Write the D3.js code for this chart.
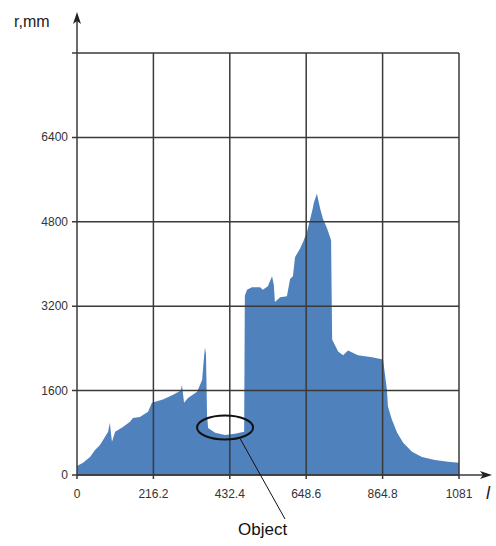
<!DOCTYPE html>
<html><head><meta charset="utf-8">
<script src="https://d3js.org/d3.v7.min.js"></script>
<style>body{margin:0;background:#fff;} svg{display:block;font-family:Arial,"Liberation Sans",sans-serif;}</style>
</head><body>
<svg id="chart"></svg>
<script>
// profile: position along scan vs range r (mm)
var pos=[0,17,37,51,65,79,88,93,96,99,108,130,150,158,178,201,212,243,272,294,297,303,314,340,354,359,362,365,368,371,391,419,447,473,
         475,481,495,518,526,540,552,557,560,575,594,603,611,617,631,640,651,665,671,679,688,696,708,716,719,
         722,739,753,767,795,835,866,877,880,891,906,923,948,976,1013,1050,1081];
var rmm=[170,230,340,475,570,720,820,990,800,630,820,910,1010,1080,1100,1200,1370,1430,1520,1600,1710,1370,1460,1580,1800,2200,2410,2300,1140,890,800,760,780,820,
         3400,3510,3560,3560,3510,3580,3770,3600,3280,3370,3390,3715,3770,4130,4290,4420,4610,4990,5180,5330,5050,4860,4670,4510,4450,
         2570,2340,2270,2360,2270,2230,2190,1620,1300,1050,800,610,440,340,285,250,230];
var xTicks=[0,216.2,432.4,648.6,864.8,1081];
var yTicks=[0,1600,3200,4800,6400];
var yTop=8000;
var objX=419, objR=900;

var W=496,H=546,m={top:53,right:37,bottom:71,left:77};
var svg=d3.select('#chart').attr('width',W).attr('height',H);
var x=d3.scaleLinear().domain([0,1081]).range([m.left,W-m.right]),
    y=d3.scaleLinear().domain([0,yTop]).range([H-m.bottom,m.top]);
var data=pos.map(function(p,i){return {x:p,r:rmm[i]};});

svg.append('path').datum(data)
   .attr('fill','#4f81bd')
   .attr('d',d3.area().x(function(d){return x(d.x);}).y0(y(0)).y1(function(d){return y(d.r);}));

var g=svg.append('g').attr('stroke','#3a3a3a').attr('stroke-width',1.5);
g.selectAll('.vg').data(xTicks.slice(1)).enter().append('line')
 .attr('x1',function(d){return x(d);}).attr('x2',function(d){return x(d);})
 .attr('y1',y(0)+4).attr('y2',y(yTop));
g.selectAll('.hg').data(yTicks.concat([yTop])).enter().append('line')
 .attr('x1',x(0)-5).attr('x2',x(1081))
 .attr('y1',function(d){return y(d);}).attr('y2',function(d){return y(d);});
// axes with arrows
g.append('line').attr('x1',x(0)).attr('x2',x(0)).attr('y1',y(0)+4).attr('y2',16);
g.append('line').attr('x1',x(0)).attr('x2',488).attr('y1',y(0)).attr('y2',y(0));
svg.append('path').attr('d','M'+x(0)+',12 L'+(x(0)-4)+',24 L'+x(0)+',21 L'+(x(0)+4)+',24Z').attr('fill','#222');
svg.append('path').attr('d','M492,'+y(0)+' L480,'+(y(0)-4)+' L483,'+y(0)+' L480,'+(y(0)+4)+'Z').attr('fill','#222');

svg.selectAll('.yl').data(yTicks).enter().append('text')
   .attr('x',x(0)-9).attr('y',function(d){return y(d)+4;})
   .attr('text-anchor','end').attr('font-size',12).attr('fill','#333')
   .text(function(d){return d;});
svg.selectAll('.xl').data(xTicks).enter().append('text')
   .attr('x',function(d){return x(d);}).attr('y',y(0)+23)
   .attr('text-anchor','middle').attr('font-size',12).attr('fill','#333')
   .text(function(d){return d;});
svg.append('text').attr('x',14).attr('y',27).attr('font-size',16).attr('fill','#222').text('r,mm');
svg.append('text').attr('x',486).attr('y',y(0)+24).attr('font-size',18).attr('font-style','italic').attr('fill','#222').text('l');

// object annotation
svg.append('ellipse').attr('cx',x(objX)).attr('cy',y(objR)).attr('rx',28).attr('ry',12)
   .attr('fill','none').attr('stroke','#111').attr('stroke-width',2);
svg.append('line').attr('x1',x(objX)+15).attr('y1',y(objR)+11).attr('x2',285).attr('y2',519)
   .attr('stroke','#111').attr('stroke-width',1);
svg.append('text').attr('x',238).attr('y',535).attr('font-size',17).attr('fill','#111').text('Object');
</script>
</body></html>
